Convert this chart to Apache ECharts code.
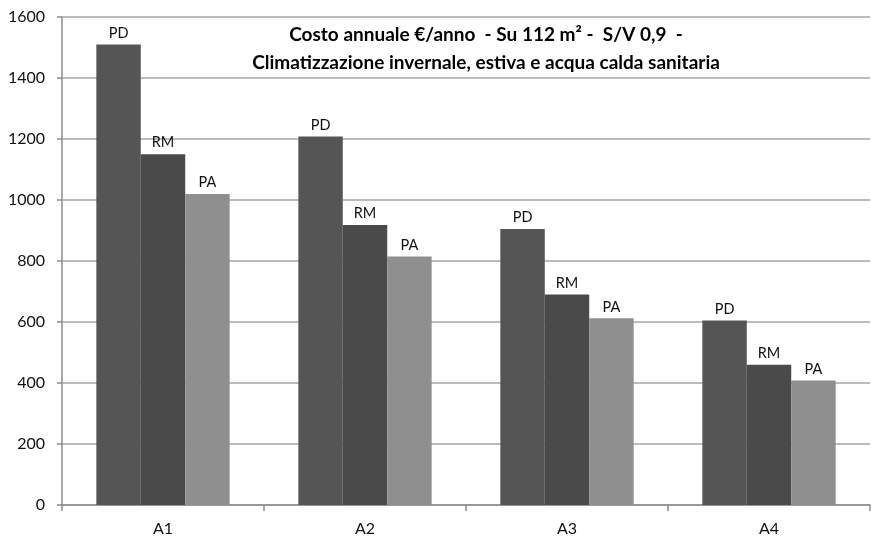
<!DOCTYPE html>
<html>
<head>
<meta charset="utf-8">
<script src="https://cdn.jsdelivr.net/npm/echarts@6/dist/echarts.min.js"></script>
<style>
  html, body { margin: 0; padding: 0; background: #fff; }
  #chart { width: 871px; height: 538px; }
</style>
</head>
<body>
<div id="chart"></div>
<script>
// Annual cost per building class, three scenarios
const categories = ['A1', 'A2', 'A3', 'A4'];
const seriesNames = ['PD', 'RM', 'PA'];
const valuesPD = [1510, 1208, 905, 605];
const valuesRM = [1150, 918, 690, 460];
const valuesPA = [1020, 815, 612, 408];
const yTicks = [0, 200, 400, 600, 800, 1000, 1200, 1400, 1600];

const colors = ['#555555', '#4a4a4a', '#8f8f8f'];
const font = 'Lato, "Open Sans", sans-serif';

const chart = echarts.init(document.getElementById('chart'));

function barSeries(name, data, color) {
  return {
    name: name,
    type: 'bar',
    data: data,
    barGap: '0%',
    barCategoryGap: '34%',
    itemStyle: { color: color },
    label: {
      show: true,
      position: 'top',
      formatter: name,
      color: '#111',
      fontSize: 14.5,
      fontFamily: font,
      distance: 4
    }
  };
}

chart.setOption({
  animation: false,
  backgroundColor: '#fff',
  title: {
    text: 'Costo annuale €/anno  - Su 112 m² -  S/V 0,9  -\nClimatizzazione invernale, estiva e acqua calda sanitaria',
    left: 481,
    top: 16,
    textAlign: 'center',
    textStyle: {
      fontFamily: font,
      fontWeight: 'bold',
      fontSize: 19,
      lineHeight: 28,
      color: '#000'
    }
  },
  grid: { left: 62, right: 1, top: 17, bottom: 33, containLabel: false },
  xAxis: {
    type: 'category',
    data: categories,
    axisLine: { lineStyle: { color: '#8c8c8c', width: 1.5 } },
    axisTick: { show: true, alignWithLabel: false, length: 6, lineStyle: { color: '#8c8c8c', width: 1.5 } },
    axisLabel: { color: '#111', fontSize: 16, fontFamily: font, margin: 16 }
  },
  yAxis: {
    type: 'value',
    min: yTicks[0],
    max: yTicks[yTicks.length - 1],
    interval: 200,
    axisLine: { show: true, lineStyle: { color: '#8c8c8c', width: 1.5 } },
    axisTick: { show: true, length: 5, lineStyle: { color: '#8c8c8c', width: 1.5 } },
    axisLabel: {
      color: '#111',
      fontSize: 16,
      fontFamily: font,
      margin: 17,
      formatter: function (v) { return String(v); }
    },
    splitLine: { show: true, lineStyle: { color: '#a6a6a6', width: 1.5 } }
  },
  series: [
    barSeries(seriesNames[0], valuesPD, colors[0]),
    barSeries(seriesNames[1], valuesRM, colors[1]),
    barSeries(seriesNames[2], valuesPA, colors[2])
  ]
});
</script>
</body>
</html>
